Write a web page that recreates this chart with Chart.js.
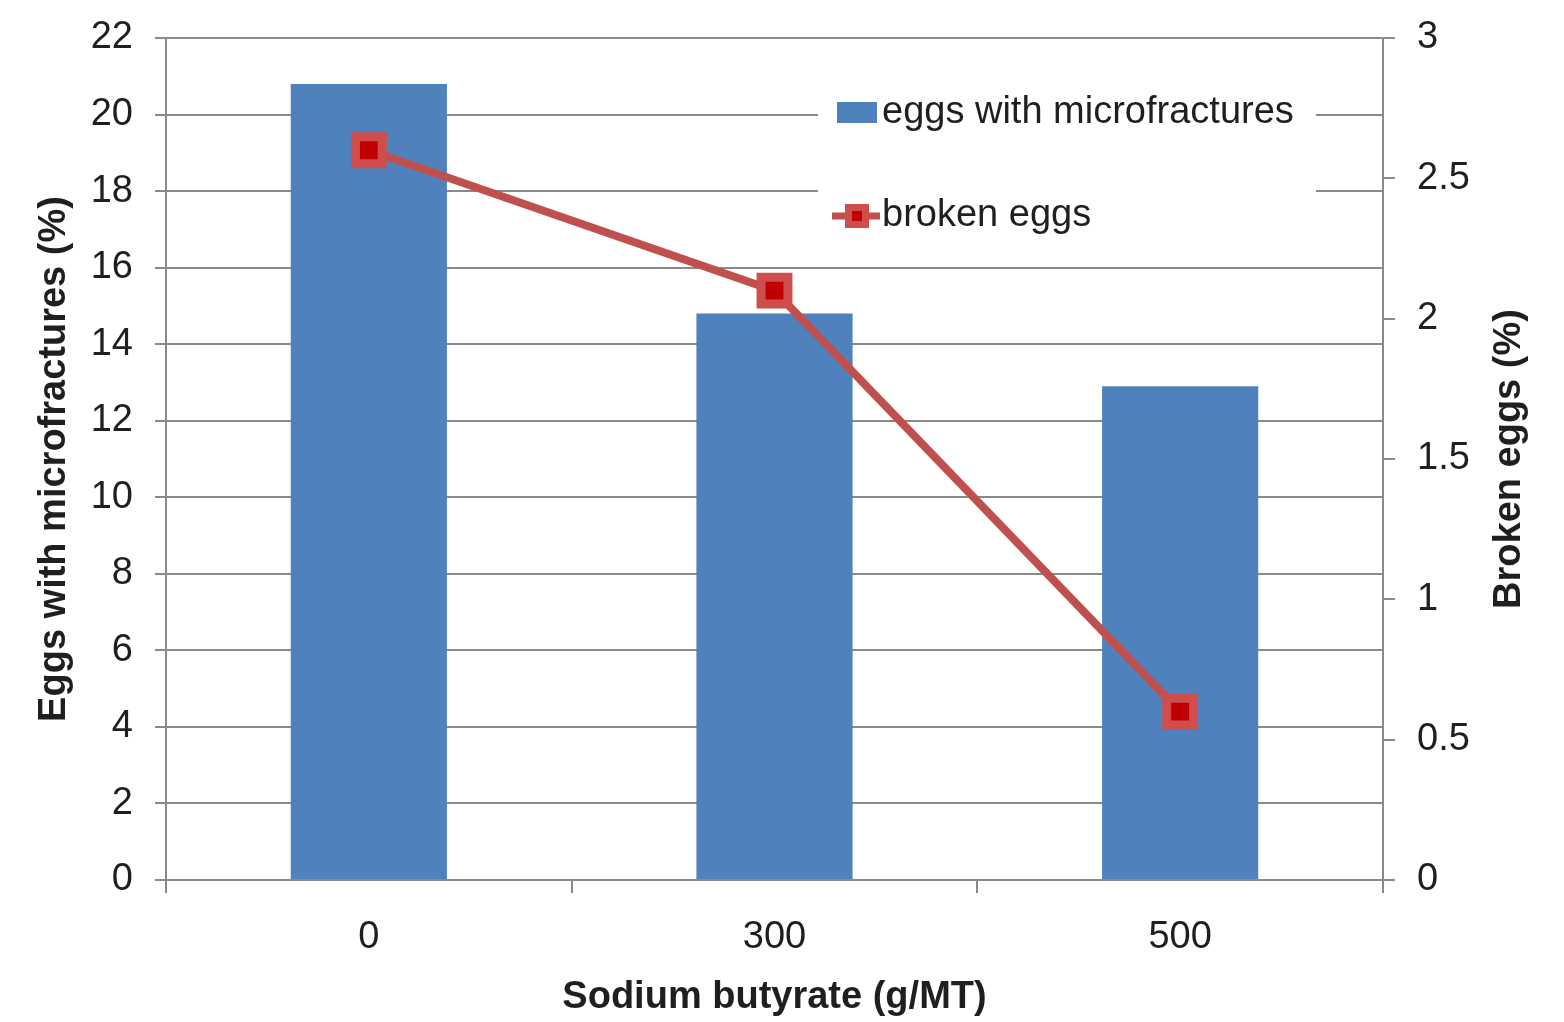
<!DOCTYPE html>
<html>
<head>
<meta charset="utf-8">
<title>Eggs with microfractures and broken eggs</title>
<script src="https://cdn.jsdelivr.net/npm/chart.js@4.4.1/dist/chart.umd.min.js"></script>
<style>
    html, body { margin: 0; padding: 0; background: #ffffff; }
    #wrap { width: 1564px; height: 1022px; position: relative; }
</style>
</head>
<body>
<div id="wrap"><canvas id="eggChart"></canvas></div>
<script>
// datos
const categorias = ['0', '300', '500'];
const microfracturas = [20.8, 14.8, 12.9];   // eje izquierdo (%)
const huevosRotos = [2.6, 2.1, 0.6];         // eje derecho (%)
const ticksIzq = [0, 2, 4, 6, 8, 10, 12, 14, 16, 18, 20, 22];
const ticksDer = [0, 0.5, 1, 1.5, 2, 2.5, 3];

const tituloX = 'Sodium butyrate (g/MT)';
const tituloIzq = 'Eggs with microfractures (%)';
const tituloDer = 'Broken eggs (%)';

const FUENTE = '"Liberation Sans", Arial, sans-serif';
const GRIS = '#8a8a8a';
const TEXTO = '#1f1f1f';
const AZUL = '#4f81bd';
const ROJO = '#c0504d';

// leyenda dibujada dentro del area del grafico, con fondo blanco
const leyendaInterna = {
    id: 'leyendaInterna',
    afterDatasetsDraw(chart) {
        const ctx = chart.ctx;
        const area = chart.chartArea;
        const x0 = area.left + 652;
        const y0 = area.top + 50;
        const barra = chart.data.datasets[1];
        const linea = chart.data.datasets[0];

        ctx.save();
        ctx.fillStyle = '#ffffff';
        ctx.fillRect(x0, y0, 498, 150);

        ctx.font = '38px ' + FUENTE;
        ctx.textBaseline = 'middle';
        ctx.textAlign = 'left';

        // barra
        ctx.fillStyle = barra.backgroundColor;
        ctx.fillRect(x0 + 19, y0 + 14, 40, 21);
        ctx.fillStyle = TEXTO;
        ctx.fillText(barra.label, x0 + 64, y0 + 25);

        // linea con marcador
        const ly = y0 + 128;
        ctx.strokeStyle = linea.borderColor;
        ctx.lineWidth = 7;
        ctx.beginPath();
        ctx.moveTo(x0 + 14, ly);
        ctx.lineTo(x0 + 62, ly);
        ctx.stroke();
        ctx.fillStyle = linea.pointBorderColor;
        ctx.fillRect(x0 + 27, ly - 12, 24, 24);
        ctx.fillStyle = linea.pointBackgroundColor;
        ctx.fillRect(x0 + 34, ly - 5, 10, 10);
        ctx.fillStyle = TEXTO;
        ctx.fillText(linea.label, x0 + 64, ly);
        ctx.restore();
    },
    afterDraw(chart) {
        // titulo del eje derecho, leido de abajo hacia arriba
        const ctx = chart.ctx;
        const area = chart.chartArea;
        const eje = chart.scales.y1;
        ctx.save();
        ctx.translate(eje.right - 54, (area.top + area.bottom) / 2);
        ctx.rotate(-Math.PI / 2);
        ctx.font = 'bold 38px ' + FUENTE;
        ctx.fillStyle = TEXTO;
        ctx.textAlign = 'center';
        ctx.textBaseline = 'middle';
        ctx.fillText(tituloDer, 0, 0);
        ctx.restore();
    }
};

const ctx = document.getElementById('eggChart').getContext('2d');

const chart = new Chart(ctx, {
    type: 'bar',
    data: {
        labels: categorias,
        datasets: [{
            type: 'line',
            label: 'broken eggs',
            data: huevosRotos,
            yAxisID: 'y1',
            borderColor: ROJO,
            borderWidth: 8,
            tension: 0,
            fill: false,
            pointStyle: 'rect',
            pointRadius: 19,
            pointHoverRadius: 19,
            pointBorderWidth: 9,
            pointBackgroundColor: '#c00000',
            pointBorderColor: '#cf4e4c'
        }, {
            type: 'bar',
            label: 'eggs with microfractures',
            data: microfracturas,
            yAxisID: 'y',
            backgroundColor: AZUL,
            borderWidth: 0,
            categoryPercentage: 1,
            barPercentage: 0.385
        }]
    },
    options: {
        responsive: true,
        maintainAspectRatio: false,
        animation: false,
        layout: { padding: { top: 38, left: 0, right: 0, bottom: 0 } },
        plugins: {
            legend: { display: false },
            tooltip: { enabled: false }
        },
        scales: {
            x: {
                offset: true,
                grid: {
                    offset: true,
                    drawOnChartArea: false,
                    drawTicks: true,
                    tickLength: 13,
                    color: GRIS,
                    lineWidth: 2
                },
                border: { display: true, color: GRIS, width: 2 },
                ticks: {
                    padding: 22,
                    color: TEXTO,
                    font: { family: FUENTE, size: 38 }
                },
                title: {
                    display: true,
                    text: tituloX,
                    color: TEXTO,
                    font: { family: FUENTE, size: 38, weight: 'bold' },
                    padding: { top: 0, bottom: 2 }
                },
                afterFit: function(scale) { scale.height = 142; }
            },
            y: {
                position: 'left',
                min: 0,
                max: 22,
                afterBuildTicks: function(axis) {
                    axis.ticks = ticksIzq.map(v => ({ value: v }));
                },
                grid: {
                    color: GRIS,
                    lineWidth: 2,
                    tickLength: 11
                },
                border: { display: true, color: GRIS, width: 2 },
                ticks: {
                    padding: 22,
                    color: TEXTO,
                    font: { family: FUENTE, size: 38 },
                    callback: v => String(v)
                },
                title: {
                    display: true,
                    text: tituloIzq,
                    color: TEXTO,
                    font: { family: FUENTE, size: 38, weight: 'bold' },
                    padding: { top: 32, bottom: 0 }
                },
                afterFit: function(scale) {
                    scale.width = 166;
                    scale.paddingTop = 0;
                    scale.paddingBottom = 0;
                }
            },
            y1: {
                position: 'right',
                min: 0,
                max: 3,
                afterBuildTicks: function(axis) {
                    axis.ticks = ticksDer.map(v => ({ value: v }));
                },
                grid: {
                    drawOnChartArea: false,
                    color: GRIS,
                    lineWidth: 2,
                    tickLength: 12
                },
                border: { display: true, color: GRIS, width: 2 },
                ticks: {
                    padding: 22,
                    color: TEXTO,
                    font: { family: FUENTE, size: 38 },
                    callback: v => String(v)
                },
                afterFit: function(scale) {
                    scale.width = 181;
                    scale.paddingTop = 0;
                    scale.paddingBottom = 0;
                }
            }
        }
    },
    plugins: [leyendaInterna]
});
</script>
</body>
</html>
